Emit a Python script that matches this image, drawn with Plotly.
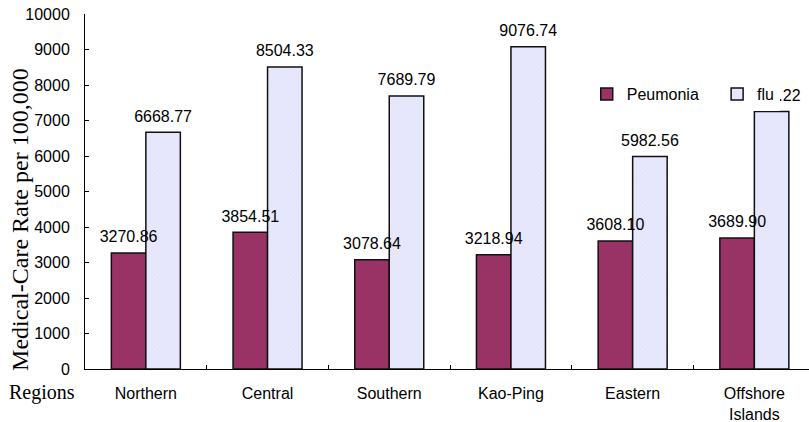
import plotly.graph_objects as go

regions = ["Northern", "Central", "Southern", "Kao-Ping", "Eastern", "Offshore<br>Islands"]
pneumonia = [3270.86, 3854.51, 3078.64, 3218.94, 3608.10, 3689.90]
flu = [6668.77, 8504.33, 7689.79, 9076.74, 5982.56, 7256.22]
y_ticks = [0, 1000, 2000, 3000, 4000, 5000, 6000, 7000, 8000, 9000, 10000]

SANS = "Liberation Sans, Arial, sans-serif"
SERIF = "Liberation Serif, Times New Roman, serif"
BARGAP = 0.433
X_RANGE = [-0.5, 5.449]

fig = go.Figure()

fig.add_trace(go.Bar(
    name="Peumonia\u00a0\u00a0\u00a0", x=regions, y=pneumonia,
    marker=dict(color="#993366", line=dict(color="#111111", width=1.5)),
))
fig.add_trace(go.Bar(
    name="flu", x=regions, y=flu,
    marker=dict(
        color="#E6E6FC",
        line=dict(color="#111111", width=1.5),
        pattern=dict(shape="x", size=3, solidity=0.15, fgcolor="#C8C8EE", bgcolor="#E8E8FD"),
    ),
))

# value labels sit on a numeric overlay axis so they draw above every bar;
# an invisible marker keeps each label clear of its bar top
half = (1 - BARGAP) / 4
idx = list(range(len(regions)))
for vals, sign in ((pneumonia, -1), (flu, 1)):
    fig.add_trace(go.Scatter(
        x=[i + sign * half for i in idx], y=vals, xaxis="x2",
        mode="markers+text", marker=dict(size=9, opacity=0),
        text=[f"{v:.2f}" for v in vals], textposition="top center",
        textfont=dict(family=SANS, size=16, color="#000000"),
        showlegend=False, hoverinfo="skip", cliponaxis=False,
    ))

fig.update_layout(
    width=809, height=422,
    margin=dict(l=85, r=0, t=14, b=53, autoexpand=False),
    paper_bgcolor="white", plot_bgcolor="white",
    barmode="group", bargap=BARGAP, bargroupgap=0,
    font=dict(family=SANS, size=16, color="#000000"),
    xaxis=dict(
        type="category", range=X_RANGE, showgrid=False,
        showline=True, linecolor="#000000", linewidth=1,
        ticks="inside", tickson="boundaries", ticklen=4, tickcolor="#000000",
        tickfont=dict(family=SANS, size=16), ticklabelstandoff=10,
    ),
    xaxis2=dict(overlaying="x", range=X_RANGE, visible=False),
    yaxis=dict(
        range=[0, 10000], tickvals=y_ticks, tickformat="d", showgrid=False, zeroline=False,
        showline=True, linecolor="#000000", linewidth=1,
        ticks="inside", ticklen=4, tickcolor="#000000",
        tickfont=dict(family=SANS, size=16), ticklabelstandoff=11,
    ),
    legend=dict(
        orientation="h", x=0.693, xanchor="left", y=0.8225, yanchor="top",
        bgcolor="white", borderwidth=0, font=dict(family=SANS, size=16),
    ),
    annotations=[
        dict(
            text="Medical-Care Rate per 100,000", textangle=-90,
            xref="paper", yref="paper", x=0, y=0.42,
            xanchor="center", yanchor="middle", xshift=-65,
            showarrow=False, font=dict(family=SERIF, size=24, color="#000000"),
        ),
        dict(
            text="Regions", xref="paper", yref="paper", x=0, y=0,
            xanchor="right", yanchor="middle", xshift=-8, yshift=-23,
            showarrow=False, font=dict(family=SERIF, size=20, color="#000000"),
        ),
    ],
)

fig.write_html("out.html")
